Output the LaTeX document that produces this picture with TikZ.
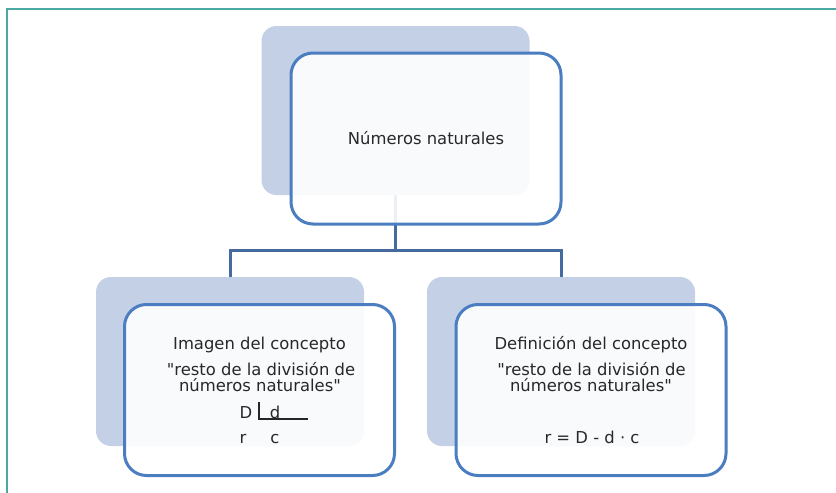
\documentclass[tikz,border=0pt]{standalone}
\usepackage{fontspec}
\setmainfont{DejaVu Sans}[Ligatures=TeXOff]

\definecolor{backfill}{RGB}{195,208,229}
\definecolor{boxline}{RGB}{74,126,192}
\definecolor{linkline}{RGB}{68,106,160}
\definecolor{frameline}{RGB}{75,168,162}
\definecolor{inktext}{RGB}{40,40,40}

\tikzstyle{backshape} = [rectangle,rounded corners=15pt,fill=backfill,minimum width=268pt,minimum height=169pt,inner sep=0pt]
\tikzstyle{frontbox} = [rectangle,rounded corners=22pt,draw=boxline,line width=3pt,fill=white,fill opacity=0.9,text opacity=1,minimum width=270pt,minimum height=171pt,inner sep=0pt,text=inktext,font=\fontsize{16.4}{16}\selectfont]
\tikzstyle{boxtext} = [inner sep=0pt,anchor=base,text=inktext,font=\fontsize{16.4}{16}\selectfont]
\tikzstyle{link} = [draw=linkline,line width=3pt]
\tikzstyle{divline} = [draw=black!85,line width=2pt]

\begin{document}
\begin{tikzpicture}[x=1pt,y=-1pt]
		\useasboundingbox (0,0) rectangle (836,493);
		\draw[frameline,line width=1.5pt] (7,493) -- (7,9) -- (836,9);
		\node[backshape] (topback) at (395.5,110.5) {};
		\node[backshape] (imgback) at (230,361.5) {};
		\node[backshape] (defback) at (561,361.5) {};
		\coordinate (split) at (395.5,250);
		\draw[link] (topback.south) -- (split);
		\draw[link] (split) -| (imgback.north);
		\draw[link] (split) -| (defback.north);
		\node[frontbox] (top) at (426,138.5) {Números naturales};
		\node[frontbox] (img) at (259.5,390) {};
		\node[frontbox] (def) at (591,390) {};
		\node[boxtext] (imgtitle) at (259.5,349) {Imagen del concepto};
		\node[boxtext] (imgq1) at (261,375) {"resto de la división de};
		\node[boxtext] (imgq2) at (260,391) {números naturales"};
		\node[boxtext] (dvd) at (246,418) {D};
		\node[boxtext] (dsr) at (275,418) {d};
		\node[boxtext] (rem) at (243,443) {r};
		\node[boxtext] (quo) at (275,443) {c};
		\draw[divline] ([xshift=-11pt,yshift=3pt]dsr.north west) |- ([xshift=28pt,yshift=-1pt]dsr.base east);
		\node[boxtext] (deftitle) at (591,349) {Definición del concepto};
		\node[boxtext] (defq1) at (591.5,375) {"resto de la división de};
		\node[boxtext] (defq2) at (591,391) {números naturales"};
		\node[boxtext] (formula) at (592,443) {r = D - d · c};
		\end{tikzpicture}
\end{document}
